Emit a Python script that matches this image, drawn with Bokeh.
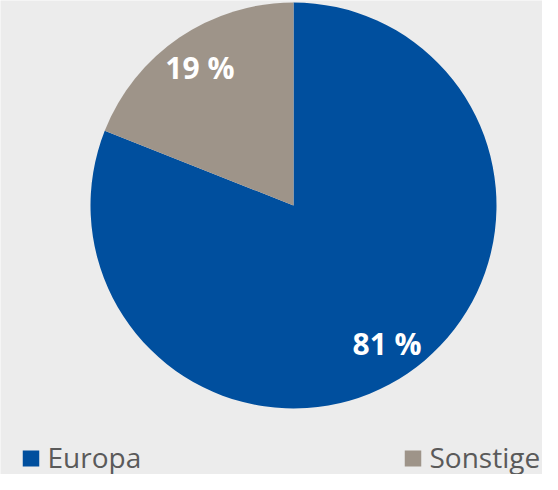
import numpy as np
from bokeh.plotting import figure
from bokeh.models import Range1d, ColumnDataSource
from bokeh.core.properties import value
from bokeh.embed import file_html
from bokeh.resources import INLINE

# ---- data ----
categories = ["Europa", "Sonstige"]
shares = [81, 19]
colors = ["#004f9e", "#9e9489"]

# ---- layout ----
W, H = 542, 474
BG = "#ececec"
cx, cy, R = 293, H - 205, 203

frac = np.array(shares, dtype=float) / sum(shares)
cum = np.concatenate([[0], np.cumsum(frac)])
start = np.pi / 2 - cum[:-1] * 2 * np.pi
end = np.pi / 2 - cum[1:] * 2 * np.pi
mid = (start + end) / 2
lab_r = 0.82 * R

src = ColumnDataSource(dict(
    cat=categories, share=shares, color=colors,
    start=start, end=end,
    lx=cx + lab_r * np.cos(mid), ly=cy + lab_r * np.sin(mid),
    label=[f"{s} %" for s in shares],
))

p = figure(width=W, height=H, output_backend="svg", toolbar_location=None,
           x_range=Range1d(0, W), y_range=Range1d(0, H),
           min_border=0, background_fill_color=BG, border_fill_color=BG,
           outline_line_color=None)
p.axis.visible = False
p.grid.visible = False

p.wedge(x=cx, y=cy, radius=R, start_angle="start", end_angle="end",
        direction="clock", fill_color="color", line_color=None, source=src)
p.text(x="lx", y="ly", text="label", source=src, text_color="white",
       text_font=value("Open Sans"), text_font_style="bold",
       text_font_size="30px", text_align="center", text_baseline="middle")

# ---- legend ----
leg_x = [22, 404]
leg_cy = 16
leg_src = ColumnDataSource(dict(
    sx=[x + 8.5 for x in leg_x], sy=[leg_cy] * 2,
    tx=[x + 25 for x in leg_x], ty=[leg_cy + 2] * 2,
    color=colors, label=categories,
))
p.rect(x="sx", y="sy", width=16.5, height=16, fill_color="color",
       line_color=None, source=leg_src)
p.text(x="tx", y="ty", text="label", source=leg_src, text_color="#5a5a5a",
       text_font=value("Open Sans"), text_font_size="28px",
       text_align="left", text_baseline="middle")

open("out.html", "w").write(file_html(p, INLINE))
